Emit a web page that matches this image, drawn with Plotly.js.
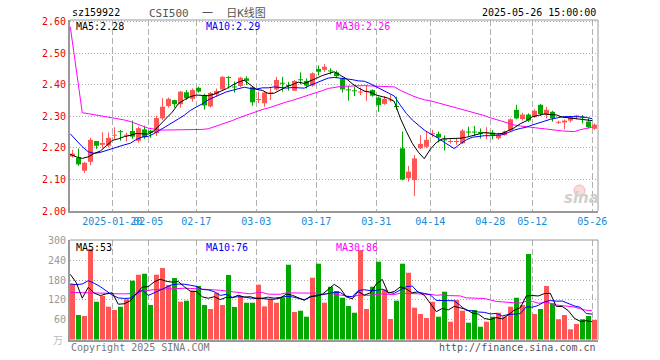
<!DOCTYPE html>
<html><head><meta charset="utf-8">
<script src="https://cdn.plot.ly/plotly-3.0.1.min.js"></script>
<style>html,body{margin:0;padding:0;background:#fff;}#chart{width:660px;height:360px;}</style>
</head><body><div id="chart"></div>
<script>
const dates = ['2025-01-09','2025-01-10','2025-01-13','2025-01-14','2025-01-15','2025-01-16','2025-01-17','2025-01-20','2025-01-21','2025-01-22','2025-01-23','2025-01-24','2025-01-27',
'2025-02-05','2025-02-06','2025-02-07','2025-02-10','2025-02-11','2025-02-12','2025-02-13','2025-02-14','2025-02-17','2025-02-18','2025-02-19','2025-02-20','2025-02-21','2025-02-24','2025-02-25','2025-02-26','2025-02-27','2025-02-28',
'2025-03-03','2025-03-04','2025-03-05','2025-03-06','2025-03-07','2025-03-10','2025-03-11','2025-03-12','2025-03-13','2025-03-14','2025-03-17','2025-03-18','2025-03-19','2025-03-20','2025-03-21','2025-03-24','2025-03-25','2025-03-26','2025-03-27','2025-03-28','2025-03-31',
'2025-04-01','2025-04-02','2025-04-03','2025-04-07','2025-04-08','2025-04-09','2025-04-10','2025-04-11','2025-04-14','2025-04-15','2025-04-16','2025-04-17','2025-04-18','2025-04-21','2025-04-22','2025-04-23','2025-04-24','2025-04-25','2025-04-28','2025-04-29','2025-04-30',
'2025-05-06','2025-05-07','2025-05-08','2025-05-09','2025-05-12','2025-05-13','2025-05-14','2025-05-15','2025-05-16','2025-05-19','2025-05-20','2025-05-21','2025-05-22','2025-05-23','2025-05-26'];

const open = [2.173,2.169,2.128,2.156,2.222,2.210,2.207,2.239,2.252,2.239,
2.254,2.223,2.259,2.255,2.247,2.294,2.333,2.352,2.339,2.377,
2.356,2.391,2.368,2.332,2.370,2.386,2.424,2.394,2.397,2.421,
2.393,2.352,2.342,2.373,2.386,2.406,2.399,2.382,2.417,2.413,
2.398,2.451,2.448,2.445,2.440,2.420,2.385,2.382,2.376,2.378,
2.384,2.360,2.340,2.351,2.332,2.199,2.104,2.098,2.199,2.204,
2.243,2.245,2.226,2.219,2.219,2.215,2.251,2.251,2.251,2.246,
2.249,2.231,2.241,2.256,2.321,2.292,2.306,2.298,2.337,2.305,
2.315,2.280,2.281,2.287,2.300,2.298,2.284,2.261];
const close = [2.182,2.148,2.153,2.226,2.207,2.216,2.232,2.241,2.250,2.241,
2.236,2.263,2.234,2.248,2.295,2.331,2.356,2.339,2.379,2.358,
2.384,2.379,2.335,2.375,2.381,2.426,2.422,2.392,2.423,2.413,
2.345,2.356,2.376,2.375,2.416,2.404,2.397,2.413,2.415,2.398,
2.437,2.442,2.458,2.443,2.428,2.386,2.383,2.380,2.378,2.380,
2.366,2.336,2.356,2.353,2.330,2.100,2.125,2.167,2.213,2.226,
2.247,2.233,2.224,2.221,2.221,2.255,2.249,2.249,2.246,2.248,
2.241,2.242,2.252,2.291,2.294,2.306,2.287,2.318,2.308,2.321,
2.294,2.282,2.287,2.298,2.302,2.296,2.266,2.274];
const high = [2.194,2.198,2.156,2.232,2.222,2.250,2.249,2.266,2.257,2.249,
2.287,2.268,2.271,2.258,2.302,2.358,2.360,2.353,2.381,2.384,
2.389,2.395,2.372,2.378,2.389,2.428,2.428,2.411,2.426,2.428,
2.395,2.379,2.379,2.391,2.426,2.426,2.410,2.416,2.440,2.421,
2.440,2.462,2.466,2.453,2.446,2.423,2.397,2.394,2.392,2.400,
2.386,2.363,2.365,2.368,2.363,2.252,2.143,2.178,2.241,2.252,
2.258,2.252,2.240,2.228,2.231,2.260,2.268,2.270,2.262,2.266,
2.257,2.246,2.255,2.294,2.337,2.312,2.310,2.323,2.340,2.331,
2.318,2.287,2.291,2.302,2.305,2.305,2.294,2.278];
const low = [2.169,2.143,2.121,2.145,2.197,2.199,2.202,2.229,2.223,2.221,
2.229,2.217,2.229,2.232,2.238,2.289,2.328,2.328,2.328,2.352,
2.347,2.376,2.322,2.328,2.363,2.382,2.389,2.376,2.393,2.400,
2.334,2.342,2.331,2.352,2.382,2.379,2.382,2.381,2.402,2.389,
2.395,2.430,2.442,2.434,2.422,2.376,2.350,2.365,2.368,2.350,
2.363,2.315,2.337,2.346,2.321,2.097,2.093,2.048,2.196,2.200,
2.235,2.218,2.192,2.214,2.210,2.213,2.237,2.238,2.230,2.228,
2.227,2.226,2.239,2.252,2.291,2.287,2.282,2.296,2.302,2.294,
2.284,2.276,2.259,2.281,2.291,2.278,2.262,2.257];
const volume = [167.8,74.1,71.1,273.7,114.4,131.5,99.2,89.2,99.2,121.5,
177.9,196.0,199.0,104.3,196.0,216.2,164.8,186.0,114.4,117.4,
147.6,161.8,104.3,92.2,141.5,104.3,195.0,98.3,131.5,111.3,
111.3,165.8,100.2,121.5,111.3,127.6,226.2,83.2,87.1,69.0,
187.0,229.3,111.3,159.7,146.7,126.4,101.3,81.0,270.6,92.2,
159.7,235.3,151.8,62.0,117.4,229.3,202.0,96.2,77.1,65.0,
114.4,69.0,144.6,53.8,119.4,87.1,50.8,89.2,38.7,53.8,
69.0,81.0,69.0,99.2,126.4,104.3,258.6,77.1,92.2,161.8,
109.5,61.1,74.1,30.8,46.9,61.1,71.1,59.0];

const ma5 = [2.180,2.172,2.167,2.172,2.183,2.190,2.207,2.224,2.229,2.236,
2.240,2.246,2.245,2.244,2.255,2.274,2.293,2.314,2.340,2.353,
2.363,2.368,2.367,2.366,2.371,2.379,2.388,2.399,2.409,2.415,
2.399,2.386,2.383,2.373,2.374,2.385,2.394,2.401,2.409,2.405,
2.412,2.421,2.430,2.436,2.442,2.431,2.420,2.404,2.391,2.381,
2.377,2.368,2.363,2.358,2.348,2.295,2.253,2.215,2.187,2.166,
2.196,2.217,2.229,2.230,2.229,2.231,2.234,2.239,2.244,2.249,
2.247,2.245,2.246,2.255,2.264,2.277,2.286,2.299,2.303,2.308,
2.306,2.305,2.298,2.296,2.293,2.293,2.290,2.287];
const ma10 = [2.245,2.224,2.204,2.188,2.183,2.186,2.192,2.200,2.206,2.210,
2.215,2.227,2.235,2.237,2.246,2.257,2.270,2.279,2.292,2.304,
2.319,2.330,2.340,2.353,2.362,2.371,2.378,2.383,2.388,2.393,
2.389,2.387,2.391,2.391,2.394,2.392,2.390,2.392,2.391,2.390,
2.399,2.407,2.416,2.422,2.424,2.422,2.420,2.417,2.413,2.412,
2.404,2.394,2.384,2.375,2.365,2.336,2.310,2.289,2.273,2.257,
2.245,2.235,2.222,2.209,2.198,2.213,2.226,2.234,2.237,2.239,
2.239,2.240,2.242,2.249,2.257,2.262,2.266,2.273,2.279,2.286,
2.291,2.295,2.299,2.300,2.300,2.299,2.297,2.293];
const ma30 = [2.585,2.445,2.312,2.309,2.306,2.303,2.300,2.297,2.293,2.289,
2.284,2.278,2.270,2.263,2.259,2.257,2.257,2.257,2.257,2.257,
2.257,2.258,2.259,2.261,2.267,2.274,2.281,2.287,2.295,2.302,
2.308,2.315,2.322,2.327,2.334,2.340,2.346,2.351,2.357,2.362,
2.369,2.375,2.382,2.389,2.393,2.395,2.396,2.397,2.397,2.398,
2.397,2.396,2.397,2.396,2.394,2.383,2.374,2.366,2.359,2.353,
2.350,2.345,2.340,2.335,2.329,2.324,2.319,2.313,2.308,2.303,
2.296,2.290,2.283,2.278,2.273,2.270,2.267,2.265,2.263,2.261,
2.258,2.257,2.254,2.253,2.252,2.258,2.263,2.266];
const volMa5 = [197,172,125,158,140.2,133.0,138.0,141.6,106.7,108.1,
117.4,136.8,158.7,159.7,174.6,182.3,176.1,173.5,175.5,159.8,
146.0,145.4,129.1,124.7,129.5,120.8,127.5,126.3,134.1,128.1,
129.5,123.6,124.0,122.0,122.0,125.3,137.4,134.0,127.1,118.6,
130.5,131.1,136.7,151.3,166.8,154.7,129.1,123.0,145.2,134.3,
141.0,167.8,181.9,140.2,145.2,159.2,152.5,141.4,144.4,133.9,
110.9,84.3,94.0,89.4,100.2,94.8,91.1,80.1,77.0,63.9,
60.3,66.3,62.3,74.4,88.9,96.0,131.5,133.1,131.7,138.8,
139.8,100.3,99.7,87.5,64.5,54.8,56.8,53.8];
const volMa10 = [168,166,168,178,170,160,147,134,126,124.2,
125.2,137.4,150.2,133.2,141.4,149.9,156.4,166.1,167.6,167.2,
164.2,160.8,151.3,150.1,144.6,133.4,136.5,127.7,129.4,128.8,
125.2,125.6,125.1,128.1,125.1,127.4,130.5,129.0,124.6,120.3,
127.9,134.2,135.4,139.2,142.7,142.6,130.1,129.9,148.2,150.6,
147.8,148.4,152.5,142.7,139.8,150.1,160.1,161.7,142.3,139.6,
135.1,118.4,117.7,116.9,117.1,102.9,87.7,87.0,83.2,82.1,
77.5,78.7,71.2,75.7,76.4,78.1,98.9,97.7,103.1,113.9,
117.9,115.9,116.4,109.6,101.6,97.3,78.6,76.8];
const volMa30 = [142.5,142.3,142.0,141.8,141.6,141.5,140.0,138.5,137.5,138.0,
139.0,141.0,146.0,149.5,151.0,152.0,153.0,154.5,155.0,155.0,
154.5,153.5,152.5,152.0,151.0,149.0,146.5,144.5,142.0,140.1,
138.2,141.2,142.2,137.1,137.0,136.9,141.1,140.9,140.5,138.8,
139.1,140.2,137.3,139.1,137.5,134.5,132.4,128.9,134.1,133.2,
133.6,136.1,137.7,136.6,135.8,140.0,140.2,140.2,138.4,136.8,
136.9,133.7,135.2,132.9,133.2,131.8,126.0,126.2,124.6,124.1,
120.1,115.2,113.8,111.8,111.1,110.4,115.6,115.5,109.5,111.8,
110.2,104.4,101.8,100.7,98.4,92.8,88.4,87.2];

const tickDates = ['2025-01-20','2025-02-05','2025-02-17','2025-03-03','2025-03-17','2025-03-31','2025-04-14','2025-04-28','2025-05-12','2025-05-26'];
const tickLabels = ['2025-01-20','02-05','02-17','03-03','03-17','03-31','04-14','04-28','05-12','05-26'];
const priceTicks = [2.00,2.10,2.20,2.30,2.40,2.50,2.60];
const volTicks = [60,120,180,240,300];

// ---- build ----
const RED = '#ff5555', GREEN = '#00a800';
const MONO = 'DejaVu Sans Mono, monospace';
const idx = dates.map((d, i) => i);
const lineX = idx.map(i => i - 0.37);
const gridX = tickDates.map(d => dates.indexOf(d) - 0.37);
const isUp = close.map((c, i) => c >= open[i]);
const colors = isUp.map(u => u ? RED : GREEN);
const bodyBase = open.map((o, i) => Math.min(o, close[i]));
const bodyH = open.map((o, i) => Math.max(Math.abs(close[i] - o), 0.0032));

function wick(flag) {
  const x = [], y = [];
  idx.forEach(i => { if (isUp[i] === flag) { x.push(i, i, null); y.push(low[i], high[i], null); } });
  return {x, y};
}
const wu = wick(true), wd = wick(false);

const traces = [
  {type:'scatter', mode:'lines', x: wu.x, y: wu.y, line:{color:RED, width:1}, xaxis:'x', yaxis:'y', hoverinfo:'skip'},
  {type:'scatter', mode:'lines', x: wd.x, y: wd.y, line:{color:GREEN, width:1}, xaxis:'x', yaxis:'y', hoverinfo:'skip'},
  {type:'bar', x: idx, y: bodyH, base: bodyBase, width: 0.8333, marker:{color: colors, line:{width:0}}, xaxis:'x', yaxis:'y'},
  {type:'scatter', mode:'lines', x: lineX, y: ma30, line:{color:'#ff00ff', width:1}, xaxis:'x', yaxis:'y'},
  {type:'scatter', mode:'lines', x: lineX, y: ma10, line:{color:'#0000ff', width:1}, xaxis:'x', yaxis:'y'},
  {type:'scatter', mode:'lines', x: lineX, y: ma5, line:{color:'#000000', width:1}, xaxis:'x', yaxis:'y'},
  {type:'bar', x: idx, y: volume, width: 0.8333, marker:{color: colors, line:{width:0}}, xaxis:'x2', yaxis:'y2'},
  {type:'scatter', mode:'lines', x: lineX, y: volMa30, line:{color:'#ff00ff', width:1}, xaxis:'x2', yaxis:'y2'},
  {type:'scatter', mode:'lines', x: lineX, y: volMa10, line:{color:'#0000ff', width:1}, xaxis:'x2', yaxis:'y2'},
  {type:'scatter', mode:'lines', x: lineX, y: volMa5, line:{color:'#000000', width:1}, xaxis:'x2', yaxis:'y2'}
];

const L = 70, R = 598, T = 20, B = 340;
const px = x => (x - L) / (R - L);
const py = y => (B - y) / (B - T);
function ann(text, x, y, anchor, color, size, fam) {
  return {text, x: px(x), y: py(y), xref:'paper', yref:'paper', xanchor: anchor, yanchor:'middle',
    showarrow:false, font:{family: fam || MONO, size: size || 10, color: color || '#000'}};
}
const xr = [-0.4167, 87.5833];
const layout = {
  width:660, height:360, margin:{l:70, r:62, t:20, b:20, pad:0},
  paper_bgcolor:'#fff', plot_bgcolor:'#fff', showlegend:false, barmode:'overlay',
  font:{family: MONO, size:10},
  xaxis:{domain:[0,1], range: xr, anchor:'y', tickmode:'array', tickvals: gridX, ticktext: tickLabels,
    tickangle:0, ticks:'', showgrid:true, gridcolor:'#b0b0b0', gridwidth:1, griddash:'6px,3px',
    zeroline:false, showline:true, linecolor:'#999', linewidth:2,
    tickfont:{family: MONO, size:10, color:'#1a8ad8'}},
  yaxis:{domain:[0.403125,1], range:[2.0, 2.6063], anchor:'x', tickmode:'array', tickvals: priceTicks,
    ticktext: priceTicks.map(v => v.toFixed(2)), ticks:'', showgrid:true, gridcolor:'#aaa', griddash:'1px,2px',
    zeroline:false, showline:true, linecolor:'#999', linewidth:2,
    tickfont:{family: MONO, size:10, color:'#ee0000'}},
  xaxis2:{domain:[0,1], range: xr, anchor:'y2', matches:'x', tickmode:'array', tickvals: gridX, showticklabels:false,
    ticks:'', showgrid:true, gridcolor:'#b0b0b0', griddash:'6px,3px', zeroline:false,
    showline:true, linecolor:'#999', linewidth:2},
  yaxis2:{domain:[0,0.3125], range:[-1.5, 301], anchor:'x2', tickmode:'array', tickvals: volTicks,
    ticktext: volTicks.map(String), ticks:'', showgrid:true, gridcolor:'#aaa', griddash:'1px,2px',
    zeroline:false, showline:true, linecolor:'#999', linewidth:2,
    tickfont:{family: MONO, size:10, color:'#999'}},
  shapes:[
    {type:'line', xref:'paper', yref:'paper', x0:0, x1:1, y0:1, y1:1, line:{color:'#999', width:1}},
    {type:'line', xref:'paper', yref:'paper', x0:1, x1:1, y0:0.403125, y1:1, line:{color:'#999', width:1}},
    {type:'line', xref:'paper', yref:'paper', x0:0, x1:1, y0:0.3125, y1:0.3125, line:{color:'#999', width:1}},
    {type:'line', xref:'paper', yref:'paper', x0:1, x1:1, y0:0, y1:0.3125, line:{color:'#999', width:1}},
    {type:'circle', xref:'paper', yref:'paper', x0:px(574), x1:px(585), y0:py(196), y1:py(185),
      fillcolor:'rgba(240,150,150,0.35)', line:{color:'rgba(230,140,140,0.5)', width:1}}
  ],
  annotations:[
    ann('sz159922', 70, 13, 'left', '#000', 10),
    ann('CSI500  一  日K线图', 207, 12.5, 'center', '#555', 11, 'DejaVu Sans Mono, Noto Sans CJK SC, monospace'),
    ann('2025-05-26 15:00:00', 598, 13, 'right', '#000', 10),
    ann('MA5:2.28', 74, 26, 'left', '#000', 10),
    ann('MA10:2.29', 204, 26, 'left', '#0000ff', 10),
    ann('MA30:2.26', 334, 26, 'left', '#ff00ff', 10),
    ann('MA5:53', 74, 247, 'left', '#000', 10),
    ann('MA10:76', 204, 247, 'left', '#0000ff', 10),
    ann('MA30:86', 334, 247, 'left', '#ff00ff', 10),
    ann('Copyright 2025 SINA.COM', 69, 347, 'left', '#777', 10),
    ann('http://finance.sina.com.cn', 598, 347, 'right', '#555', 10),
    ann('万', 58, 339, 'center', '#bbb', 10, 'Noto Sans CJK SC'),
    ann('<b><i>sina</i></b>', 581, 198, 'center', '#cfcfcf', 15, 'DejaVu Sans')
  ]
};
Plotly.newPlot('chart', traces, layout, {staticPlot:true, displayModeBar:false});
</script></body></html>
